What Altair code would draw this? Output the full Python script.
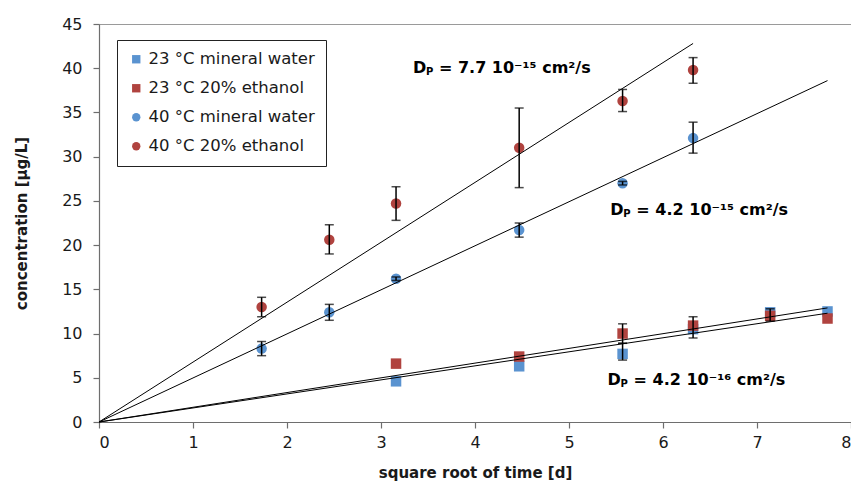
import altair as alt
import pandas as pd

# ---- data ----
series_names = ["23 °C mineral water", "23 °C 20% ethanol", "40 °C mineral water", "40 °C 20% ethanol"]
series_colors = ["#5A93D0", "#B0433F", "#5A93D0", "#B0433F"]
series_shapes = ["square", "square", "circle", "circle"]

x_23 = [3.16, 4.47, 5.57, 6.32, 7.14, 7.75]
y_23_water = [4.6, 6.3, 7.7, 10.5, 12.4, 12.5]
y_23_ethanol = [6.6, 7.4, 10.0, 10.9, 12.0, 11.7]

x_40 = [1.73, 2.45, 3.16, 4.47, 5.57, 6.32]
y_40_water = [8.3, 12.4, 16.2, 21.7, 27.0, 32.1]
y_40_ethanol = [13.0, 20.6, 24.7, 31.0, 36.3, 39.8]

# error bars: (x, low, high)
err_x = [5.57, 5.57, 6.32, 7.14,
         1.73, 2.45, 3.16, 4.47, 5.57, 6.32,
         1.73, 2.45, 3.16, 4.47, 5.57, 6.32]
err_low = [7.0, 8.9, 9.5, 11.4,
           7.5, 11.5, 16.0, 20.9, 26.8, 30.4,
           11.9, 19.0, 22.8, 26.5, 35.1, 38.3]
err_high = [8.9, 11.1, 11.9, 12.8,
            9.1, 13.3, 16.4, 22.5, 27.2, 33.9,
            14.1, 22.3, 26.6, 35.5, 37.6, 41.2]

# trend lines through the origin: id, x, y
trend_id = ["e40", "e40", "w40", "w40", "e23", "e23", "w23", "w23"]
trend_x = [0, 6.32, 0, 7.75, 0, 7.75, 0, 7.75]
trend_y = [0, 42.8, 0, 38.6, 0, 12.3, 0, 12.9]

# annotations
ann_x = [3.34, 5.44, 5.41]
ann_y = [40.0, 24.0, 4.75]
ann_rest = ["= 7.7 10\u207b\u00b9\u2075 cm\u00b2/s", "= 4.2 10\u207b\u00b9\u2075 cm\u00b2/s", "= 4.2 10\u207b\u00b9\u2076 cm\u00b2/s"]

x_ticks = [0, 1, 2, 3, 4, 5, 6, 7, 8]
y_ticks = [0, 5, 10, 15, 20, 25, 30, 35, 40, 45]

# ---- tables ----
rows = []
for xv, yv in zip(x_23, y_23_water):
    rows.append({"x": xv, "y": yv, "series": series_names[0]})
for xv, yv in zip(x_23, y_23_ethanol):
    rows.append({"x": xv, "y": yv, "series": series_names[1]})
for xv, yv in zip(x_40, y_40_water):
    rows.append({"x": xv, "y": yv, "series": series_names[2]})
for xv, yv in zip(x_40, y_40_ethanol):
    rows.append({"x": xv, "y": yv, "series": series_names[3]})
pts = pd.DataFrame(rows)
pts["order"] = pts["series"].map({s: i for i, s in enumerate(series_names)})

err = pd.DataFrame({"x": err_x, "lo": err_low, "hi": err_high})
trend = pd.DataFrame({"id": trend_id, "x": trend_x, "y": trend_y})
ann = pd.DataFrame({"x": ann_x, "y": ann_y, "rest": ann_rest})

FONT = "DejaVu Sans"

xscale = alt.Scale(domain=[0, 8], nice=False)
yscale = alt.Scale(domain=[0, 45], nice=False)

xenc = alt.X("x:Q", scale=xscale,
             axis=alt.Axis(title="square root of time [d]", values=x_ticks, grid=False,
                           format="d", tickSize=6, labelPadding=6, titlePadding=15))
yenc = alt.Y("y:Q", scale=yscale,
             axis=alt.Axis(title="concentration [µg/L]", values=y_ticks, grid=False,
                           format="d", tickSize=6, labelPadding=11, titlePadding=32))

LEG_EXPR = "datum.label + '\u00a0\u00a0\u00a0\u00a0\u00a0\u00a0\u00a0'"

points = alt.Chart(pts).mark_point(filled=True, opacity=1, size=110).encode(
    x=xenc, y=yenc,
    color=alt.Color("series:N", scale=alt.Scale(domain=series_names, range=series_colors),
                    legend=alt.Legend(title=None, labelExpr=LEG_EXPR)),
    shape=alt.Shape("series:N", scale=alt.Scale(domain=series_names, range=series_shapes),
                    legend=alt.Legend(title=None, labelExpr=LEG_EXPR)),
    order=alt.Order("order:Q"),
)

err_rule = alt.Chart(err).mark_rule(color="black", strokeWidth=1.5).encode(
    x="x:Q", y="lo:Q", y2="hi:Q")
err_cap_lo = alt.Chart(err).mark_tick(color="black", thickness=1.5, size=9, orient="horizontal").encode(
    x="x:Q", y="lo:Q")
err_cap_hi = alt.Chart(err).mark_tick(color="black", thickness=1.5, size=9, orient="horizontal").encode(
    x="x:Q", y="hi:Q")

lines = alt.Chart(trend).mark_line(color="black", strokeWidth=1).encode(
    x="x:Q", y="y:Q", detail="id:N")

ann_d = alt.Chart(ann).mark_text(text="D", font=FONT, fontWeight="bold", fontSize=16,
                                 align="left", baseline="middle", color="black").encode(x="x:Q", y="y:Q")
ann_p = alt.Chart(ann).mark_text(text="P", font=FONT, fontWeight="bold", fontSize=10,
                                 align="left", baseline="middle", color="black", dx=13, dy=4).encode(x="x:Q", y="y:Q")
ann_r = alt.Chart(ann).mark_text(font=FONT, fontWeight="bold", fontSize=16,
                                 align="left", baseline="middle", color="black", dx=26).encode(
    x="x:Q", y="y:Q", text="rest:N")

chart = alt.layer(points, err_rule, err_cap_lo, err_cap_hi, lines, ann_d, ann_p, ann_r).properties(
    width=752, height=398,
    autosize=alt.AutoSizeParams(type="none"),
    padding={"left": 91, "top": 16, "right": 0, "bottom": 64},
).configure_view(
    stroke="#9a9a9a", strokeWidth=1
).configure_axis(
    labelFont=FONT, labelFontSize=16, labelColor="#1a1a1a",
    titleFont=FONT, titleFontSize=15, titleFontWeight="bold", titleColor="#1a1a1a",
    domainColor="#6e6e6e", tickColor="#6e6e6e", domainWidth=1.2, tickWidth=1.2,
).configure_legend(
    orient="none", legendX=18, legendY=16,
    strokeColor="#222222", fillColor="white", padding=11,
    labelFont=FONT, labelFontSize=16.5, labelColor="#1a1a1a", labelLimit=400,
    symbolSize=70, symbolStrokeWidth=0, rowPadding=12, labelOffset=4,
    cornerRadius=0,
)

chart.save("out.html", embed_options={"renderer": "svg", "actions": False})
